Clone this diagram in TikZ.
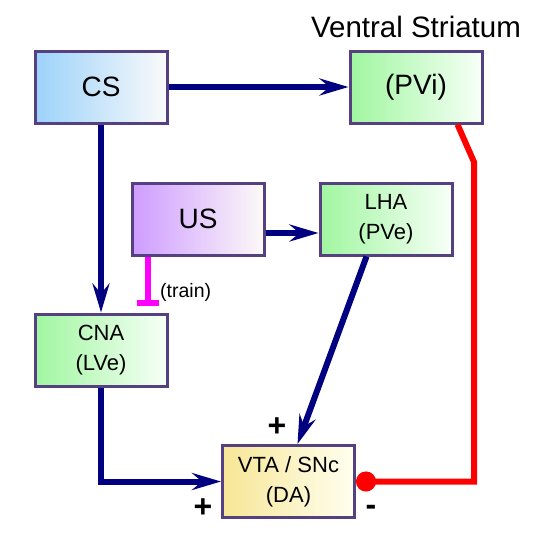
\documentclass[tikz,border=0pt]{standalone}
\usepackage{fontspec}
\setmainfont{Liberation Sans}
\usetikzlibrary{arrows.meta,calc}
\definecolor{navy}{RGB}{0,0,128}
\definecolor{boxline}{RGB}{85,65,130}
\definecolor{csblue}{RGB}{156,210,250}
\definecolor{lgreen}{RGB}{160,246,160}
\definecolor{lav}{RGB}{206,156,255}
\definecolor{lyel}{RGB}{247,230,150}
\definecolor{magent}{RGB}{255,0,255}
\definecolor{redline}{RGB}{255,0,0}
\begin{document}
\begin{tikzpicture}[x=1pt,y=-1pt,
  box/.style={draw=boxline, line width=3pt, minimum width=132pt, minimum height=72pt, inner sep=0pt, align=center},
  big/.style={font=\fontsize{28}{30}\selectfont},
  small/.style={font=\fontsize{22}{30}\selectfont},
  bluebox/.style={box, left color=csblue, right color=white!96!gray},
  greenbox/.style={box, left color=lgreen, right color=white!97!green},
  lavbox/.style={box, left color=lav, right color=white!96!brown},
  yelbox/.style={box, left color=lyel, right color=white!94!yellow},
  excite/.style={draw=navy, line width=6pt, -{Stealth[length=29pt,width=17pt,inset=10pt]}},
  inhib/.style={draw=redline, line width=6pt, -{Circle[length=20pt]}},
  train/.style={draw=magent, line width=6pt, -{Bar[width=22pt]}},
  sign/.style={font=\fontsize{32}{32}\selectfont\bfseries, inner sep=0pt}
]
\useasboundingbox (0,0) rectangle (549,539);

\node[bluebox, big] (CS) at (101,87) {CS};
\node[greenbox, big] (PVi) at (416,87) {(PVi)};
\node[font=\fontsize{29.5}{30}\selectfont] (VS) at (416,27) {Ventral Striatum};
\node[lavbox, big] (US) at (198,219) {US};
\node[greenbox, small] (LHA) at (386,219) {LHA\\(PVe)};
\node[greenbox, small] (CNA) at (101,350) {CNA\\(LVe)};
\node[yelbox, small] (VTA) at (288.5,481.5) {VTA / SNc\\(DA)};

\coordinate (trainend) at (148,306);
\coordinate (rbend) at (474,162);

\draw[excite] (CS.east) -- (PVi.west);
\draw[excite] (CS.south) -- (CNA.north);
\draw[excite] ([yshift=-14pt]US.east) -- ([yshift=-14pt]LHA.west);
\draw[excite] ([xshift=-19.5pt]LHA.south) -- ([xshift=9pt]VTA.north);
\draw[excite] (CNA.south) |- (VTA.west);
\draw[train] (US.south -| trainend) -- (trainend);
\node[anchor=west, inner sep=0pt, font=\fontsize{19.5}{20}\selectfont] (trainlbl) at (160,292) {(train)};
\draw[inhib] ([xshift=41.5pt]PVi.south) -- (rbend) -- (rbend |- VTA.east) -- (VTA.east);

\node[sign] (p1) at (277,427) {+};
\node[sign] (p2) at (203,508) {+};
\node[sign] (m1) at (371,510) {-};
\end{tikzpicture}
\end{document}
